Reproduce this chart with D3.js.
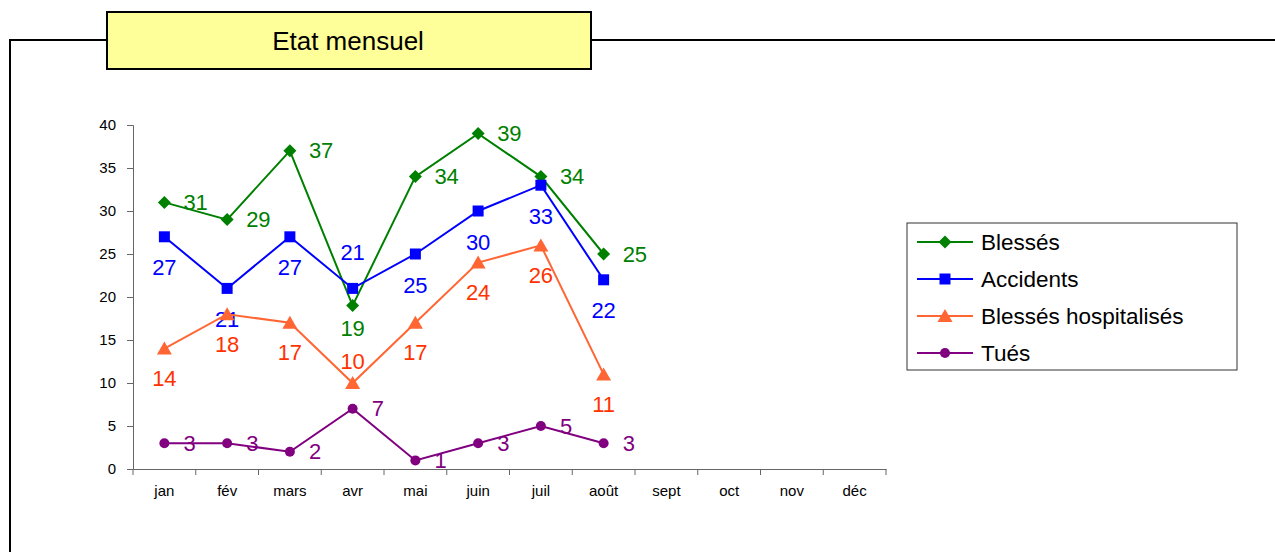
<!DOCTYPE html>
<html>
<head>
<meta charset="utf-8">
<script src="https://cdn.jsdelivr.net/npm/d3@7"></script>
<style>
  html, body { margin: 0; padding: 0; background: #fff; }
  svg { display: block; font-family: "Liberation Sans", Arial, sans-serif; }
</style>
</head>
<body>
<svg id="chart" width="1275" height="552"></svg>
<script>
var title = "Etat mensuel";
var months = ["jan", "fév", "mars", "avr", "mai", "juin", "juil", "août", "sept", "oct", "nov", "déc"];
var yTicks = [0, 5, 10, 15, 20, 25, 30, 35, 40];

var seriesNames = ["Blessés", "Accidents", "Blessés hospitalisés", "Tués"];
var blesses = [31, 29, 37, 19, 34, 39, 34, 25];
var accidents = [27, 21, 27, 21, 25, 30, 33, 22];
var hospitalises = [14, 18, 17, 10, 17, 24, 26, 11];
var tues = [3, 3, 2, 7, 1, 3, 5, 3];

// where each value label sits: r = right, b = below, a = above
var blessesPlace = ["r", "r", "r", "b", "r", "r", "r", "r"];
var accidentsPlace = ["b", "b", "b", "a", "b", "b", "b", "b"];
var hospitalisesPlace = ["b", "b", "b", "a", "b", "b", "b", "b"];
var tuesPlace = ["r", "r", "r", "r", "r", "r", "r", "r"];

///////////////////////////////////////////////////////////////////////////////

// below / above are the label offsets for each series
var series = [
  {name: seriesNames[0], values: blesses, place: blessesPlace,
   line: "#008000", text: "#008000", marker: "diamond", below: 23, above: -28},
  {name: seriesNames[1], values: accidents, place: accidentsPlace,
   line: "#0000ff", text: "#0000ff", marker: "square", below: 31, above: -36},
  {name: seriesNames[2], values: hospitalises, place: hospitalisesPlace,
   line: "#ff6633", text: "#ff3300", marker: "triangle", below: 30, above: -22},
  {name: seriesNames[3], values: tues, place: tuesPlace,
   line: "#800080", text: "#800080", marker: "circle", below: 30, above: -28}
];

var svg = d3.select("#chart");

// outer frame (only top and left visible)
svg.append("path")
  .attr("d", "M10,552 L10,40 L1275,40")
  .attr("fill", "none")
  .attr("stroke", "#000")
  .attr("stroke-width", 2);

// title box
svg.append("rect")
  .attr("x", 107).attr("y", 12)
  .attr("width", 484).attr("height", 57)
  .attr("fill", "#ffff99")
  .attr("stroke", "#000")
  .attr("stroke-width", 2);

svg.append("text")
  .attr("x", 348).attr("y", 41)
  .attr("text-anchor", "middle")
  .attr("dominant-baseline", "central")
  .attr("font-size", 26)
  .attr("fill", "#000")
  .text(title);

///////////////////////////////////////////////////////////////////////////////

var x = d3.scaleBand().domain(months).range([133, 886]);
var y = d3.scaleLinear().domain([0, 40]).range([469, 125]);

var cx = function (i) { return x(months[i]) + x.bandwidth() / 2; };

// y axis
var yAxis = svg.append("g")
  .attr("transform", "translate(133,0)")
  .call(d3.axisLeft(y).tickValues(yTicks).tickSize(6).tickPadding(11));
yAxis.select(".domain").attr("stroke", "#666");
yAxis.selectAll(".tick line").attr("stroke", "#666");
yAxis.selectAll(".tick text")
  .attr("font-size", 15)
  .attr("font-family", "Liberation Sans, Arial, sans-serif")
  .attr("fill", "#000");

// x axis, ticks between categories
var xAxis = svg.append("g")
  .attr("transform", "translate(0,469)")
  .call(d3.axisBottom(x).tickSize(0).tickPadding(16));
xAxis.select(".domain").attr("stroke", "#666");
xAxis.selectAll(".tick text")
  .attr("font-size", 15)
  .attr("font-family", "Liberation Sans, Arial, sans-serif")
  .attr("fill", "#000");
xAxis.selectAll(".sep")
  .data(d3.range(months.length + 1))
  .enter().append("line")
  .attr("class", "sep")
  .attr("x1", function (i) { return 133 + i * x.step(); })
  .attr("x2", function (i) { return 133 + i * x.step(); })
  .attr("y1", 0).attr("y2", 6)
  .attr("stroke", "#666");

///////////////////////////////////////////////////////////////////////////////

var markerPath = function (kind) {
  if (kind === "diamond")
    return "M0,-6.5 L6.5,0 L0,6.5 L-6.5,0 Z";
  if (kind === "square")
    return "M-5.5,-5.5 L5.5,-5.5 L5.5,5.5 L-5.5,5.5 Z";
  if (kind === "triangle")
    return "M0,-7 L7.5,6 L-7.5,6 Z";
  return d3.symbol().type(d3.symbolCircle).size(Math.PI * 25)();
};

var line = d3.line()
  .x(function (d, i) { return cx(i); })
  .y(function (d) { return y(d); });

series.forEach(function (s) {
  var g = svg.append("g");

  g.append("path")
    .attr("d", line(s.values))
    .attr("fill", "none")
    .attr("stroke", s.line)
    .attr("stroke-width", 2);

  g.selectAll(".mk")
    .data(s.values)
    .enter().append("path")
    .attr("class", "mk")
    .attr("d", markerPath(s.marker))
    .attr("transform", function (d, i) {
      return "translate(" + cx(i) + "," + y(d) + ")";
    })
    .attr("fill", s.line);

  g.selectAll(".lbl")
    .data(s.values)
    .enter().append("text")
    .attr("class", "lbl")
    .attr("x", function (d, i) {
      return s.place[i] === "r" ? cx(i) + 19 : cx(i);
    })
    .attr("y", function (d, i) {
      var p = s.place[i];
      if (p === "b") return y(d) + s.below;
      if (p === "a") return y(d) + s.above;
      return y(d);
    })
    .attr("text-anchor", function (d, i) {
      return s.place[i] === "r" ? "start" : "middle";
    })
    .attr("dominant-baseline", "central")
    .attr("font-size", 22)
    .attr("fill", s.text)
    .text(function (d) { return d; });
});

///////////////////////////////////////////////////////////////////////////////

// legend
var legend = svg.append("g");

legend.append("rect")
  .attr("x", 907).attr("y", 223)
  .attr("width", 330).attr("height", 147)
  .attr("fill", "#fff")
  .attr("stroke", "#333")
  .attr("stroke-width", 1);

var item = legend.selectAll(".item")
  .data(series)
  .enter().append("g")
  .attr("class", "item")
  .attr("transform", function (d, i) {
    return "translate(0," + (242 + i * 37) + ")";
  });

item.append("line")
  .attr("x1", 917).attr("x2", 973)
  .attr("y1", 0).attr("y2", 0)
  .attr("stroke", function (d) { return d.line; })
  .attr("stroke-width", 2);

item.append("path")
  .attr("d", function (d) { return markerPath(d.marker); })
  .attr("transform", "translate(945,0)")
  .attr("fill", function (d) { return d.line; });

item.append("text")
  .attr("x", 981).attr("y", 0)
  .attr("dominant-baseline", "central")
  .attr("font-size", 22.5)
  .attr("fill", "#000")
  .text(function (d) { return d.name; });
</script>
</body>
</html>
